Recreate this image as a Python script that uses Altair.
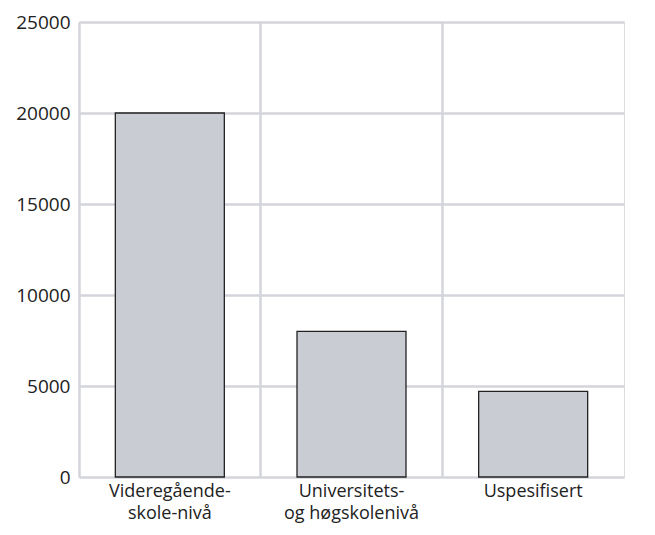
import altair as alt
import pandas as pd

categories = ["Videregående-\nskole-nivå", "Universitets-\nog høgskolenivå", "Uspesifisert"]
values = [20000, 8000, 4700]
y_ticks = [0, 5000, 10000, 15000, 20000, 25000]

df = pd.DataFrame({"kategori": categories, "antall": values})

grid_color = "#d3d5db"
font = "Open Sans"

chart = alt.Chart(df).mark_bar(
    width=alt.RelativeBandSize(0.6),
    fill="#c9ccd3",
    stroke="#222222",
    strokeWidth=1.3,
).encode(
    x=alt.X(
        "kategori:N",
        sort=None,
        title=None,
        scale=alt.Scale(paddingInner=0, paddingOuter=0),
        axis=alt.Axis(
            labelAngle=0,
            labelExpr="split(datum.label, '\\n')",
            labelFont=font,
            labelFontSize=18,
            labelColor="#222222",
            labelLineHeight=22.5,
            labelPadding=5,
            domain=False,
            ticks=False,
            grid=True,
            bandPosition=0,
            gridColor=grid_color,
            gridWidth=2.5,
            gridOpacity=1,
        ),
    ),
    y=alt.Y(
        "antall:Q",
        title=None,
        scale=alt.Scale(domain=[0, 25000], nice=False),
        axis=alt.Axis(
            values=y_ticks,
            format="d",
            labelFont=font,
            labelFontSize=19,
            labelColor="#222222",
            labelPadding=9,
            domain=False,
            ticks=False,
            grid=True,
            gridColor=grid_color,
            gridWidth=2.5,
            gridOpacity=1,
        ),
    ),
).properties(
    width=545,
    height=455,
    autosize=alt.AutoSizeParams(type="none"),
    padding={"left": 71, "top": 14, "right": 15, "bottom": 50},
).configure_view(
    stroke=grid_color,
    strokeWidth=2.5,
).configure(background="white")

chart.save("out.html", embed_options={"renderer": "svg", "actions": False})
